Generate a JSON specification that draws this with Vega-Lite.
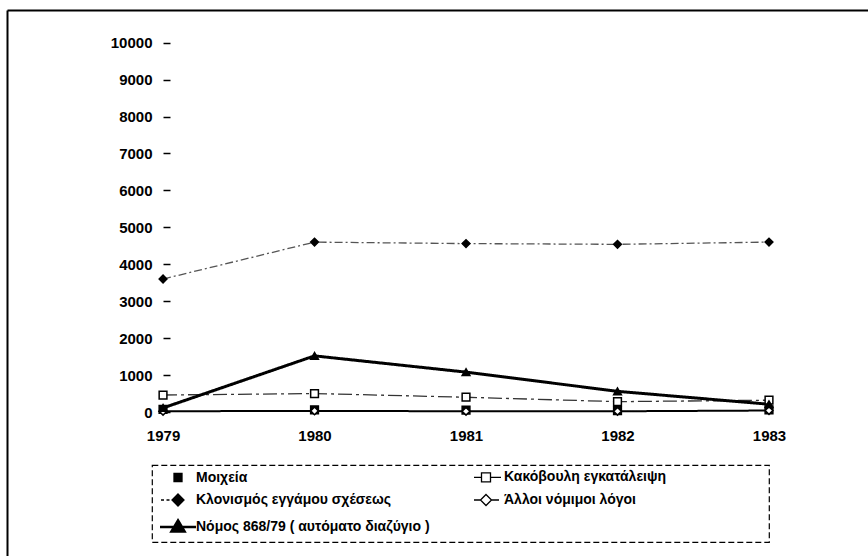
{
  "$schema": "https://vega.github.io/schema/vega-lite/v6.json",
  "width": 861,
  "height": 546,
  "autosize": {"type": "none"},
  "padding": {"left": 7, "top": 10, "right": 0, "bottom": 0},
  "background": "white",
  "config": {
    "view": {"stroke": null},
    "font": "Liberation Sans",
    "axis": {"grid": false, "labelFont": "Liberation Sans", "labelFontSize": 15, "labelFontWeight": "bold", "labelColor": "black"},
    "legend": {
      "orient": "none", "legendX": 145, "legendY": 455, "columns": 2, "padding": 5,
      "strokeColor": "black", "strokeDash": [6, 3], "strokeWidth": 1.2,
      "labelFont": "Liberation Sans", "labelFontSize": 14, "labelFontWeight": "bold", "labelColor": "black",
      "labelOffset": 11, "symbolOffset": 14, "symbolSize": 100, "symbolStrokeColor": "black", "symbolStrokeWidth": 1.3,
      "rowPadding": 6, "columnPadding": 35, "labelLimit": 600
    }
  },
  "resolve": {"scale": {"shape": "independent", "fill": "independent", "strokeWidth": "independent"}},
  "data": {
    "values": [
      {"series": "Μοιχεία", "year": 1979, "value": 70},
      {"series": "Μοιχεία", "year": 1980, "value": 60},
      {"series": "Μοιχεία", "year": 1981, "value": 50},
      {"series": "Μοιχεία", "year": 1982, "value": 40},
      {"series": "Μοιχεία", "year": 1983, "value": 60},
      {"series": "Κακόβουλη εγκατάλειψη", "year": 1979, "value": 460},
      {"series": "Κακόβουλη εγκατάλειψη", "year": 1980, "value": 500},
      {"series": "Κακόβουλη εγκατάλειψη", "year": 1981, "value": 400},
      {"series": "Κακόβουλη εγκατάλειψη", "year": 1982, "value": 280},
      {"series": "Κακόβουλη εγκατάλειψη", "year": 1983, "value": 320},
      {"series": "Κλονισμός εγγάμου σχέσεως", "year": 1979, "value": 3600},
      {"series": "Κλονισμός εγγάμου σχέσεως", "year": 1980, "value": 4600},
      {"series": "Κλονισμός εγγάμου σχέσεως", "year": 1981, "value": 4560},
      {"series": "Κλονισμός εγγάμου σχέσεως", "year": 1982, "value": 4540},
      {"series": "Κλονισμός εγγάμου σχέσεως", "year": 1983, "value": 4600},
      {"series": "Άλλοι νόμιμοι λόγοι", "year": 1979, "value": 20},
      {"series": "Άλλοι νόμιμοι λόγοι", "year": 1980, "value": 30},
      {"series": "Άλλοι νόμιμοι λόγοι", "year": 1981, "value": 20},
      {"series": "Άλλοι νόμιμοι λόγοι", "year": 1982, "value": 20},
      {"series": "Άλλοι νόμιμοι λόγοι", "year": 1983, "value": 40},
      {"series": "Νόμος 868/79 ( αυτόματο διαζύγιο )", "year": 1979, "value": 110},
      {"series": "Νόμος 868/79 ( αυτόματο διαζύγιο )", "year": 1980, "value": 1520},
      {"series": "Νόμος 868/79 ( αυτόματο διαζύγιο )", "year": 1981, "value": 1080},
      {"series": "Νόμος 868/79 ( αυτόματο διαζύγιο )", "year": 1982, "value": 560},
      {"series": "Νόμος 868/79 ( αυτόματο διαζύγιο )", "year": 1983, "value": 210}
    ]
  },
  "layer": [
    {
      "transform": [{"filter": "datum.series !== 'Μοιχεία'"}],
      "mark": {"type": "line"},
      "encoding": {
        "x": {"field": "year", "type": "quantitative",
          "scale": {"domain": [1977.97, 1983.6535], "nice": false, "zero": false},
          "axis": {"orient": "bottom", "offset": -144, "values": [1979, 1980, 1981, 1982, 1983], "format": "d", "domain": false, "ticks": false, "labelPadding": 16, "title": null}},
        "y": {"field": "value", "type": "quantitative",
          "scale": {"domain": [-3899, 10885], "nice": false, "zero": false},
          "axis": {"orient": "left", "offset": -156, "values": [0, 1000, 2000, 3000, 4000, 5000, 6000, 7000, 8000, 9000, 10000], "format": "d", "domain": false, "tickSize": -7, "tickColor": "black", "tickWidth": 1.5, "labelPadding": 18, "title": null}},
        "detail": {"field": "series", "type": "nominal"},
        "strokeDash": {"field": "series", "type": "nominal",
          "scale": {"domain": ["Κακόβουλη εγκατάλειψη", "Κλονισμός εγγάμου σχέσεως", "Άλλοι νόμιμοι λόγοι", "Νόμος 868/79 ( αυτόματο διαζύγιο )"],
            "range": [[14, 4, 3, 4], [8, 3, 2, 3], [1, 0], [1, 0]]}, "legend": null},
        "strokeWidth": {"field": "series", "type": "nominal",
          "scale": {"type": "ordinal", "domain": ["Κακόβουλη εγκατάλειψη", "Κλονισμός εγγάμου σχέσεως", "Άλλοι νόμιμοι λόγοι", "Νόμος 868/79 ( αυτόματο διαζύγιο )"],
            "range": [1.3, 1.3, 2, 3]}, "legend": null},
        "stroke": {"field": "series", "type": "nominal",
          "scale": {"domain": ["Κακόβουλη εγκατάλειψη", "Κλονισμός εγγάμου σχέσεως", "Άλλοι νόμιμοι λόγοι", "Νόμος 868/79 ( αυτόματο διαζύγιο )"],
            "range": ["#333333", "#555555", "#000000", "#000000"]}, "legend": null}
      }
    },
    {
      "mark": {"type": "point", "filled": false, "size": 60, "strokeWidth": 1.5, "stroke": "black", "opacity": 1},
      "encoding": {
        "x": {"field": "year", "type": "quantitative",
          "scale": {"domain": [1977.97, 1983.6535], "nice": false, "zero": false},
          "axis": {"orient": "top", "domain": true, "domainColor": "black", "domainWidth": 2, "ticks": false, "labels": false, "title": null}},
        "y": {"field": "value", "type": "quantitative",
          "scale": {"domain": [-3899, 10885], "nice": false, "zero": false},
          "axis": {"orient": "right", "offset": -861, "domain": true, "domainColor": "black", "domainWidth": 2, "ticks": false, "labels": false, "title": null}},
        "shape": {"field": "series", "type": "nominal",
          "scale": {"domain": ["Μοιχεία", "Κλονισμός εγγάμου σχέσεως", "Νόμος 868/79 ( αυτόματο διαζύγιο )", "Κακόβουλη εγκατάλειψη", "Άλλοι νόμιμοι λόγοι"],
            "range": ["square", "diamond", "triangle-up", "square", "diamond"]},
          "legend": null},
        "fill": {"field": "series", "type": "nominal",
          "scale": {"domain": ["Μοιχεία", "Κλονισμός εγγάμου σχέσεως", "Νόμος 868/79 ( αυτόματο διαζύγιο )", "Κακόβουλη εγκατάλειψη", "Άλλοι νόμιμοι λόγοι"],
            "range": ["black", "black", "black", "white", "white"]},
          "legend": null}
      }
    },
    {
      "transform": [{"filter": "false"}],
      "mark": {"type": "point", "stroke": "black", "opacity": 1},
      "encoding": {
        "shape": {"field": "series", "type": "nominal",
          "scale": {"domain": ["Μοιχεία", "Κλονισμός εγγάμου σχέσεως", "Νόμος 868/79 ( αυτόματο διαζύγιο )", "Κακόβουλη εγκατάλειψη", "Άλλοι νόμιμοι λόγοι"],
            "range": ["M-0.8,-0.8H0.8V0.8H-0.8Z", "M-3.4,0H-2.8M-2.3,0H-1.7M0,-1.2L1.2,0L0,1.2L-1.2,0Z", "M-3.6,0H3.6M0,-1.3L1.3,0.9H-1.3Z", "M-2.4,0H-0.9M0.9,0H3M-0.9,-0.9H0.9V0.9H-0.9Z", "M-2.4,0H-1.1M1.1,0H2.6M0,-1.1L1.1,0L0,1.1L-1.1,0Z"]},
          "legend": {"title": null,
            "labelExpr": "datum.label === 'Κακόβουλη εγκατάλειψη' ? datum.label + '\u00a0\u00a0\u00a0\u00a0\u00a0\u00a0\u00a0\u00a0\u00a0\u00a0\u00a0\u00a0\u00a0\u00a0\u00a0\u00a0\u00a0\u00a0\u00a0\u00a0\u00a0\u00a0\u00a0\u00a0\u00a0\u200b' : datum.label",
            "encoding": {"symbols": {"stroke": {"value": "black"}}}}},
        "fill": {"field": "series", "type": "nominal",
          "scale": {"domain": ["Μοιχεία", "Κλονισμός εγγάμου σχέσεως", "Νόμος 868/79 ( αυτόματο διαζύγιο )", "Κακόβουλη εγκατάλειψη", "Άλλοι νόμιμοι λόγοι"],
            "range": ["black", "black", "black", "white", "white"]},
          "legend": {"title": null}},
        "strokeWidth": {"field": "series", "type": "nominal",
          "scale": {"type": "ordinal", "domain": ["Μοιχεία", "Κλονισμός εγγάμου σχέσεως", "Νόμος 868/79 ( αυτόματο διαζύγιο )", "Κακόβουλη εγκατάλειψη", "Άλλοι νόμιμοι λόγοι"],
            "range": [1.3, 1.3, 2.6, 1.3, 1.3]},
          "legend": {"title": null}}
      }
    }
  ]
}
